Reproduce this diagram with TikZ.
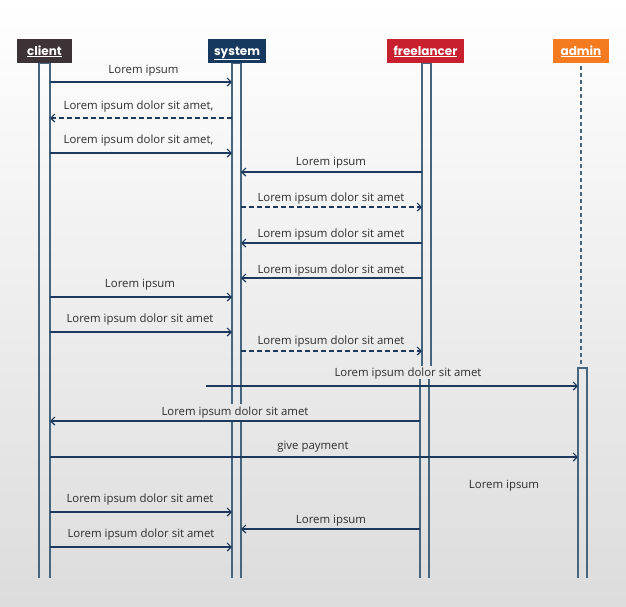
\documentclass[tikz,border=0pt]{standalone}
\usepackage{fontspec}
\setmainfont{Open Sans}
\newfontfamily\headfont{Poppins}
\usetikzlibrary{arrows.meta}
\definecolor{navy}{HTML}{1D3A5E}
\definecolor{barc}{HTML}{46657F}
\definecolor{txtc}{HTML}{2E2E2E}
\definecolor{bgbot}{HTML}{DCDCDC}
\definecolor{clientc}{HTML}{3D3236}
\definecolor{systemc}{HTML}{17395F}
\definecolor{freec}{HTML}{C8202F}
\definecolor{adminc}{HTML}{F47B20}
\tikzset{
  hdr/.style={text=white, font=\headfont\fontseries{sb}\selectfont\fontsize{12}{14}\selectfont, minimum height=24pt, inner sep=0pt, text depth=0pt},
  lbl/.style={text=txtc, font=\fontsize{11.4}{13}\selectfont, inner sep=0pt, yshift=-1.5pt},
  bar/.style={draw=barc, line width=1.4pt},
  msg/.style={draw=navy, line width=1.2pt, -{Straight Barb[length=4pt,width=8pt,line width=1.2pt]}},
  rmsg/.style={msg, dash pattern=on 5pt off 3pt}
}
\newcommand{\hul}[1]{\underline{#1}}
\begin{document}
\begin{tikzpicture}[x=1pt,y=-1pt]
\useasboundingbox (0,0) rectangle (626,606);
\shade[top color=white, bottom color=bgbot] (0,0) rectangle (626,606);

% headers
\node[hdr, fill=clientc, minimum width=55pt] (client) at (44.5,51) {};
\node[hdr, fill=systemc, minimum width=58pt] (system) at (237,51) {};
\node[hdr, fill=freec, minimum width=77pt] (freelancer) at (425.5,51) {};
\node[hdr, fill=adminc, minimum width=56pt] (admin) at (581,51) {};
\node[hdr, anchor=base] (tclient) at (44.5,55) {\hul{client}};
\node[hdr, anchor=base] (tsystem) at (237,55) {\hul{system}};
\node[hdr, anchor=base] (tfree) at (425.5,55) {\hul{freelancer}};
\node[hdr, anchor=base] (tadmin) at (581,55) {\hul{admin}};

% activation bars / lifelines
\draw[bar] (39,578) -- (39,63.5) -- (50,63.5) -- (50,578);
\draw[bar] (232,404) -- (232,63.5) -- (241,63.5) -- (241,404);
\draw[bar] (232,422) -- (232,578);
\draw[bar] (241,422) -- (241,578);
\draw[bar] (422,366) -- (422,63.5) -- (431,63.5) -- (431,366);
\draw[bar] (420,379) -- (420,578);
\draw[bar] (429,379) -- (429,578);
\draw[draw=barc, line width=1.5pt, dash pattern=on 4pt off 3pt] (581,66) -- (581,368);
\draw[bar] (578,578) -- (578,368) -- (587,368) -- (587,578);

% message end points
\coordinate (c1) at (50,82);   \coordinate (s1) at (232,82);
\coordinate (c2) at (50,118);  \coordinate (s2) at (232,118);
\coordinate (c3) at (50,153);  \coordinate (s3) at (232,153);
\coordinate (s4) at (241,172); \coordinate (f4) at (422,172);
\coordinate (s5) at (241,207); \coordinate (f5) at (422,207);
\coordinate (s6) at (241,243); \coordinate (f6) at (422,243);
\coordinate (s7) at (241,278); \coordinate (f7) at (422,278);
\coordinate (c8) at (50,297);  \coordinate (s8) at (232,297);
\coordinate (c9) at (50,332);  \coordinate (s9) at (232,332);
\coordinate (s10) at (241,351); \coordinate (f10) at (422,351);
\coordinate (x11) at (206,386); \coordinate (a11) at (578,386);
\coordinate (f12) at (420,421); \coordinate (c12) at (50,421);
\coordinate (c13) at (50,457); \coordinate (a13) at (578,457);
\coordinate (c15) at (50,512); \coordinate (s15) at (232,512);
\coordinate (f16) at (420,529); \coordinate (s16) at (241,529);
\coordinate (c17) at (50,547); \coordinate (s17) at (232,547);

% messages
\draw[msg] (c1) -- (s1);
\draw[rmsg] (s2) -- (c2);
\draw[msg] (c3) -- (s3);
\draw[msg] (f4) -- (s4);
\draw[rmsg] (s5) -- (f5);
\draw[msg] (f6) -- (s6);
\draw[msg] (f7) -- (s7);
\draw[msg] (c8) -- (s8);
\draw[msg] (c9) -- (s9);
\draw[rmsg] (s10) -- (f10);
\draw[msg] (x11) -- (a11);
\draw[msg] (f12) -- (c12);
\draw[msg] (c13) -- (a13);
\draw[msg] (c15) -- (s15);
\draw[msg] (f16) -- (s16);
\draw[msg] (c17) -- (s17);

% labels
\node[lbl] (l1) at (143.5,69) {Lorem ipsum};
\node[lbl] (l2) at (138.5,105.5) {Lorem ipsum dolor sit amet,};
\node[lbl] (l3) at (138.5,139.5) {Lorem ipsum dolor sit amet,};
\node[lbl] (l4) at (331,161.5) {Lorem ipsum};
\node[lbl] (l5) at (331,197) {Lorem ipsum dolor sit amet};
\node[lbl] (l6) at (331,233) {Lorem ipsum dolor sit amet};
\node[lbl] (l7) at (331,269) {Lorem ipsum dolor sit amet};
\node[lbl] (l8) at (140,283.5) {Lorem ipsum};
\node[lbl] (l9) at (140,318.5) {Lorem ipsum dolor sit amet};
\node[lbl] (l10) at (331,340.5) {Lorem ipsum dolor sit amet};
\node[lbl] (l11) at (408,372.5) {Lorem ipsum dolor sit amet};
\node[lbl] (l12) at (235,411) {Lorem ipsum dolor sit amet};
\node[lbl] (l13) at (313,445) {give payment};
\node[lbl] (l14) at (504,484) {Lorem ipsum};
\node[lbl] (l15) at (140,498) {Lorem ipsum dolor sit amet};
\node[lbl] (l16) at (331,519.5) {Lorem ipsum};
\node[lbl] (l17) at (141,533) {Lorem ipsum dolor sit amet};
\end{tikzpicture}
\end{document}
